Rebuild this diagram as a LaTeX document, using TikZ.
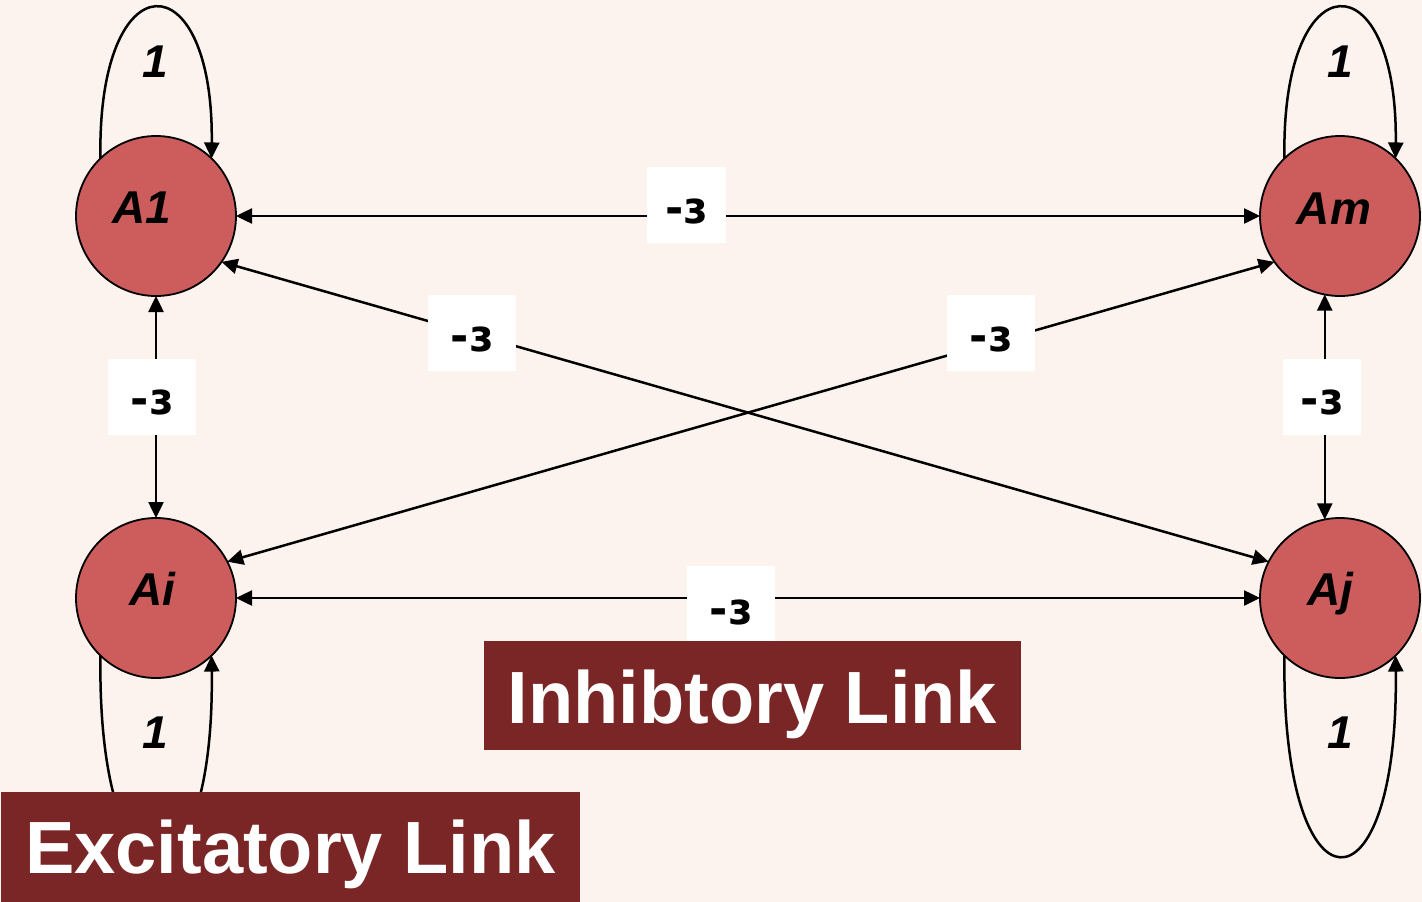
\documentclass[tikz,border=0pt]{standalone}
\usepackage{fontspec}
\setmainfont{Liberation Sans}
\newfontfamily\epsfont{DejaVu Sans}
\usetikzlibrary{arrows.meta}
\definecolor{bg}{RGB}{253,243,238}
\definecolor{nodefill}{RGB}{205,92,92}
\definecolor{boxred}{RGB}{123,38,38}
\tikzset{
  neuron/.style={circle, draw=black, line width=1.8pt, fill=nodefill, minimum size=160pt, inner sep=0pt, outer sep=0pt},
  nlab/.style={anchor=base, inner sep=0pt, font=\fontsize{46}{50}\selectfont\bfseries\itshape},
  onelab/.style={anchor=base, inner sep=0pt, font=\fontsize{46}{50}\selectfont\bfseries\itshape},
  wbox/.style={fill=white, inner sep=0pt, minimum height=76pt, text height=40pt, text depth=4pt, font=\epsfont\fontsize{44}{48}\selectfont\bfseries},
  legend/.style={fill=boxred, text=white, inner sep=0pt, font=\fontsize{74}{80}\selectfont\bfseries},
  link/.style={line width=2.5pt, >={Triangle[length=16pt,width=15pt]}},
}
\begin{document}
\begin{tikzpicture}[x=1pt,y=-1pt]
\useasboundingbox[fill=bg] (0,0) rectangle (1422,902);

% neurons
\node[neuron] (A1) at (156,216) {};
\node[neuron] (Am) at (1340,216) {};
\node[neuron] (Ai) at (156,598) {};
\node[neuron] (Aj) at (1340,598) {};
\node[nlab] (tA1) at (142,223) {A1};
\node[nlab] (tAm) at (1334,224) {Am};
\node[nlab] (tAi) at (152,605) {Ai};
\node[nlab] (tAj) at (1330,605) {Aj};

% self loops (excitatory)
\draw[link,->] (A1.134) .. controls (97,-42) and (214,-42) .. (A1.46);
\draw[link,->] (Am.134) .. controls (1281,-42) and (1398,-42) .. (Am.46);
\draw[link,->] (Ai.226) .. controls (97,922) and (215,922) .. (Ai.314);
\draw[link,->] (Aj.226) .. controls (1281,922) and (1399,922) .. (Aj.314);
\node[onelab] (l1) at (155,77) {1};
\node[onelab] (l2) at (1340,77) {1};
\node[onelab] (l3) at (155,748) {1};
\node[onelab] (l4) at (1340,748) {1};

% inhibitory links
\draw[link,<->] (A1.east) -- (Am.west);
\draw[link,<->] (Ai.east) -- (Aj.west);
\draw[link,<->] (A1.south) -- (Ai.north);
\draw[link,<->] (Am.259) -- (Aj.101);
\draw[link,<->] (A1.-35) -- (Aj.153);
\draw[link,<->] (Am.-145) -- (Ai.27);

\node[wbox, minimum width=79pt] (e1) at (686.5,205) {-ɜ};
\node[wbox, minimum width=88pt] (e2) at (152,396.5) {-ɜ};
\node[wbox, minimum width=88pt] (e3) at (472,333) {-ɜ};
\node[wbox, minimum width=88pt] (e4) at (991,333) {-ɜ};
\node[wbox, minimum width=78pt] (e5) at (1322,396.5) {-ɜ};
\node[wbox, minimum width=88pt, minimum height=80pt] (e6) at (731,606) {-ɜ};

% legends
\node[legend, minimum width=537pt, minimum height=109pt, text height=63pt, text depth=8pt] (inh) at (752.5,695.5) {Inhibtory Link};
\node[legend, minimum width=579pt, minimum height=110pt, text height=60pt, text depth=8pt] (exc) at (290.5,847) {Excitatory Link};
\end{tikzpicture}
\end{document}
